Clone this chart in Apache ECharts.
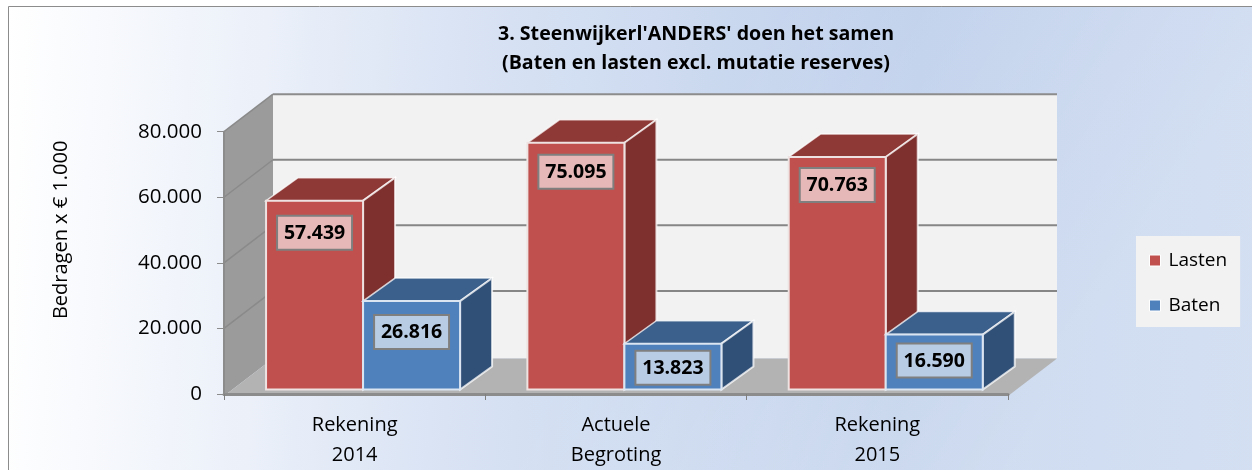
<!DOCTYPE html>
<html>
<head>
<meta charset="utf-8">
<title>Steenwijkerl'ANDERS'</title>
<script src="https://cdn.jsdelivr.net/npm/echarts@6/dist/echarts.min.js"></script>
<style>
html, body { margin: 0; padding: 0; background: #fff; }
#chart { width: 1252px; height: 470px; }
</style>
</head>
<body>
<div id="chart"></div>
<script>
var categories = ['Rekening\n2014', 'Actuele\nBegroting', 'Rekening\n2015'];
var lasten = [57439, 75095, 70763];
var baten = [26816, 13823, 16590];
var yTicks = [0, 20000, 40000, 60000, 80000];

// how far each label box sits under the top of its bar
var lastenDrop = [15, 12, 11];
var batenDrop = [14, 7, 9];

var FONT = '"Open Sans"';
var WALL_DX = 49, WALL_DY = -37.5;   // depth of the chart box
var BAR_DX = 32, BAR_DY = -23;       // depth of one bar
var SHIFT_X = 8.4, SHIFT_Y = -5;     // bars stand a bit inside the floor
var BAR_RATIO = 97 / 261.3;

function fmt(v) {
    return String(v).replace(/\B(?=(\d{3})+$)/g, '.');
}

function poly(points, fill, stroke, width) {
    return {
        type: 'polygon',
        shape: { points: points },
        style: { fill: fill, stroke: stroke || null, lineWidth: width || 0, lineJoin: 'miter' }
    };
}

function line(x1, y1, x2, y2, color, width) {
    return {
        type: 'line',
        shape: { x1: x1, y1: y1, x2: x2, y2: y2 },
        style: { stroke: color, lineWidth: width }
    };
}

// side wall, back wall, floor and the gridlines on them
function renderWalls(params, api) {
    var r = params.coordSys;
    var l = r.x, rt = r.x + r.width;
    var top = api.coord([0, 80000])[1], bot = api.coord([0, 0])[1] + 2;
    var dx = WALL_DX, dy = WALL_DY;
    var kids = [
        poly([[l + dx, top + dy], [rt + dx, top + dy], [rt + dx, bot + dy], [l + dx, bot + dy]], '#f2f2f2'),
        poly([[l, top], [l + dx, top + dy], [l + dx, bot + dy], [l, bot]], '#9b9b9b'),
        poly([[l, bot], [rt, bot], [rt + dx, bot + dy], [l + dx, bot + dy]], '#b3b3b3'),
        line(l + dx, top + dy, rt + dx, top + dy, '#8c8c8c', 2)
    ];
    yTicks.forEach(function (t) {
        if (t === 0) return;
        var y = api.coord([0, t])[1];
        if (t !== 80000) {
            kids.push(line(l + dx, y + dy, rt + dx, y + dy, '#868686', 2));
        }
        kids.push(line(l, y, l + dx, y + dy, '#8a8a8a', 1.5));
    });
    return { type: 'group', children: kids };
}

function barRenderer(side, colors, labelFill, drops) {
    return function (params, api) {
        var idx = api.value(0), val = api.value(1);
        var w = api.size([1, 0])[0] * BAR_RATIO;
        var pt = api.coord([idx, val]);
        var base = api.coord([idx, 0])[1] - 4.5;
        var mid = pt[0] + SHIFT_X;
        var x0 = side < 0 ? mid - w : mid;
        var x1 = x0 + w;
        var y0 = pt[1] + SHIFT_Y;
        var dx = BAR_DX, dy = BAR_DY;
        var halo = 'rgba(255,255,255,0.75)';
        var boxW = 75, boxH = 34;
        var bx = (x0 + x1) / 2 - boxW / 2;
        var by = y0 + drops[idx];
        return {
            type: 'group',
            children: [
                poly([[x0, y0], [x1, y0], [x1 + dx, y0 + dy], [x0 + dx, y0 + dy]], colors.top, halo, 1.5),
                poly([[x1, y0], [x1 + dx, y0 + dy], [x1 + dx, base + dy], [x1, base]], colors.side, halo, 2),
                {
                    type: 'rect',
                    shape: { x: x0, y: y0, width: w, height: base - y0 },
                    style: { fill: colors.front, stroke: colors.edge, lineWidth: 2 }
                },
                {
                    type: 'rect',
                    shape: { x: bx, y: by, width: boxW, height: boxH },
                    style: { fill: labelFill, stroke: '#7f7f7f', lineWidth: 2 }
                },
                {
                    type: 'text',
                    style: {
                        x: bx + boxW / 2, y: by + boxH / 2 + 0.5,
                        text: fmt(val),
                        fill: '#000',
                        font: 'bold 19.5px ' + FONT,
                        align: 'center',
                        verticalAlign: 'middle'
                    }
                }
            ]
        };
    };
}

var chart = echarts.init(document.getElementById('chart'), null, { renderer: 'canvas' });

chart.setOption({
    animation: false,
    textStyle: { fontFamily: FONT },
    graphic: [
        {
            type: 'rect',
            z: -10,
            silent: true,
            shape: { x: 8.5, y: 6.5, width: 1300, height: 500 },
            style: {
                fill: new echarts.graphic.LinearGradient(0, 0, 1, 0.12, [
                    { offset: 0, color: '#ffffff' },
                    { offset: 0.2, color: '#ebf0f9' },
                    { offset: 0.35, color: '#d9e3f4' },
                    { offset: 0.7, color: '#bfd0eb' },
                    { offset: 1, color: '#c5d4ee' }
                ]),
                stroke: '#8c8c8c',
                lineWidth: 1
            }
        },
        {
            // lighter towards the bottom right corner
            type: 'rect',
            z: -9,
            silent: true,
            shape: { x: 9, y: 7, width: 1243, height: 463 },
            style: {
                fill: new echarts.graphic.LinearGradient(0.5, 0.5, 0.8, 1, [
                    { offset: 0, color: 'rgba(255,255,255,0)' },
                    { offset: 1, color: 'rgba(255,255,255,0.25)' }
                ])
            }
        }
    ],
    title: {
        text: "3. Steenwijkerl'ANDERS' doen het samen\n(Baten en lasten excl. mutatie reserves)",
        left: 691,
        top: 15,
        textAlign: 'center',
        textStyle: { fontFamily: FONT, fontSize: 19.6, fontWeight: 'bold', color: '#000', lineHeight: 29 }
    },
    legend: {
        orient: 'vertical',
        left: 1136,
        top: 236,
        padding: [15, 13, 12, 13],
        itemGap: 26,
        itemWidth: 11,
        itemHeight: 11,
        icon: 'rect',
        backgroundColor: '#f2f2f2',
        data: ['Lasten', 'Baten'],
        itemStyle: { borderColor: '#fff', borderWidth: 1 },
        textStyle: { fontFamily: FONT, fontSize: 19, color: '#000', padding: [0, 0, 0, 3] }
    },
    grid: { left: 224, right: 244, top: 131.7, bottom: 75.5 },
    xAxis: {
        type: 'category',
        data: categories,
        z: 4,
        offset: 2,
        axisLine: { lineStyle: { color: '#8c8c8c', width: 3 } },
        axisTick: { show: true, length: 6, lineStyle: { color: '#7f7f7f', width: 1 } },
        axisLabel: { fontFamily: FONT, fontSize: 20, color: '#000', lineHeight: 30, margin: 14 }
    },
    yAxis: {
        type: 'value',
        min: 0,
        max: 80000,
        interval: 20000,
        name: 'Bedragen x € 1.000',
        nameLocation: 'middle',
        nameGap: 153,
        nameRotate: 90,
        nameTextStyle: { fontFamily: FONT, fontSize: 20, color: '#000', padding: [0, 0, 0, 66] },
        z: 4,
        axisLine: { show: true, lineStyle: { color: '#8c8c8c', width: 2 } },
        axisTick: { show: true, length: 7, lineStyle: { color: '#8c8c8c', width: 1 } },
        axisLabel: { fontFamily: FONT, fontSize: 20.5, color: '#000', margin: 22, formatter: fmt },
        splitLine: { show: false }
    },
    series: [
        {
            type: 'custom',
            name: 'walls',
            silent: true,
            z: 1,
            renderItem: renderWalls,
            data: [[0, 0]]
        },
        {
            type: 'custom',
            name: 'Lasten',
            z: 2,
            itemStyle: { color: '#c0504d' },
            renderItem: barRenderer(-1, { front: '#c0504d', top: '#8f3937', side: '#7d302e', edge: '#eee3e2' }, '#e6b8b7', lastenDrop),
            encode: { x: 0, y: 1 },
            data: lasten.map(function (v, i) { return [i, v]; })
        },
        {
            type: 'custom',
            name: 'Baten',
            z: 3,
            itemStyle: { color: '#4f81bd' },
            renderItem: barRenderer(1, { front: '#4f81bd', top: '#3c608c', side: '#315077', edge: '#dbe5f1' }, '#b8cce4', batenDrop),
            encode: { x: 0, y: 1 },
            data: baten.map(function (v, i) { return [i, v]; })
        }
    ]
});
</script>
</body>
</html>
